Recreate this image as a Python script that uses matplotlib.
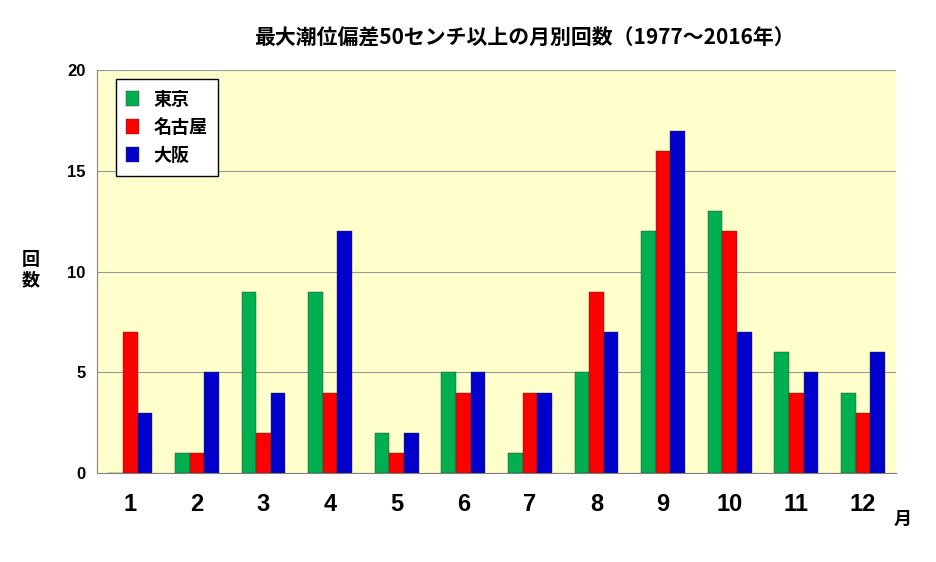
import matplotlib
matplotlib.use("Agg")
import matplotlib.pyplot as plt
import numpy as np

plt.rcParams["font.family"] = "Noto Sans CJK JP"

months = ["1","2","3","4","5","6","7","8","9","10","11","12"]
tokyo = [0,1,9,9,2,5,1,5,12,13,6,4]
nagoya = [7,1,2,4,1,4,4,9,16,12,4,3]
osaka = [3,5,4,12,2,5,4,7,17,7,5,6]
series = [("東京", tokyo, "#00B050"), ("名古屋", nagoya, "#FF0000"), ("大阪", osaka, "#0000CC")]

fig = plt.figure(figsize=(9.37,5.62), dpi=100)
ax = fig.add_axes([0.1035,0.158,0.853,0.717])
ax.set_facecolor("#FFFFCC")
x = np.arange(len(months))
w = 0.22
for i,(name,vals,c) in enumerate(series):
    ax.bar(x+(i-1)*w, vals, w, color=c, label=name, edgecolor="#333333", linewidth=0.3, zorder=3)
ax.set_xlim(-0.5, 11.5)
ax.set_ylim(0,20)
ax.set_yticks([0,5,10,15,20])
ax.yaxis.grid(True, color="#999999", linewidth=0.8, zorder=0)
ax.set_xticks(x)
ax.set_xticklabels(months, fontsize=17, fontweight="bold", fontfamily="Liberation Sans")
for t in ax.get_yticklabels():
    t.set_fontweight("bold"); t.set_fontsize(12); t.set_fontfamily("Liberation Sans")
ax.tick_params(axis="x", length=4, pad=14, direction="in")
ax.tick_params(axis="y", length=0, pad=8)
for s in ["top","right"]:
    ax.spines[s].set_visible(False)
ax.spines["left"].set_color("#808080"); ax.spines["bottom"].set_color("#808080")
fig.text(0.56,0.92,"最大潮位偏差50センチ以上の月別回数（1977～2016年）", ha="center", fontsize=15, fontweight="bold")
fig.text(0.033,0.52,"回\n数", ha="center", va="center", fontsize=13, fontweight="bold", linespacing=1.1)
fig.text(0.963,0.075,"月", ha="center", va="center", fontsize=13, fontweight="bold")
leg = ax.legend(loc="upper left", bbox_to_anchor=(0.012,1.0), fancybox=False, framealpha=1,
                edgecolor="black", prop={"size":13,"weight":"bold"}, handlelength=0.7, handleheight=0.9,
                borderpad=0.6, labelspacing=0.5)
leg.get_frame().set_linewidth(1)
fig.savefig("out.png", dpi=100)
